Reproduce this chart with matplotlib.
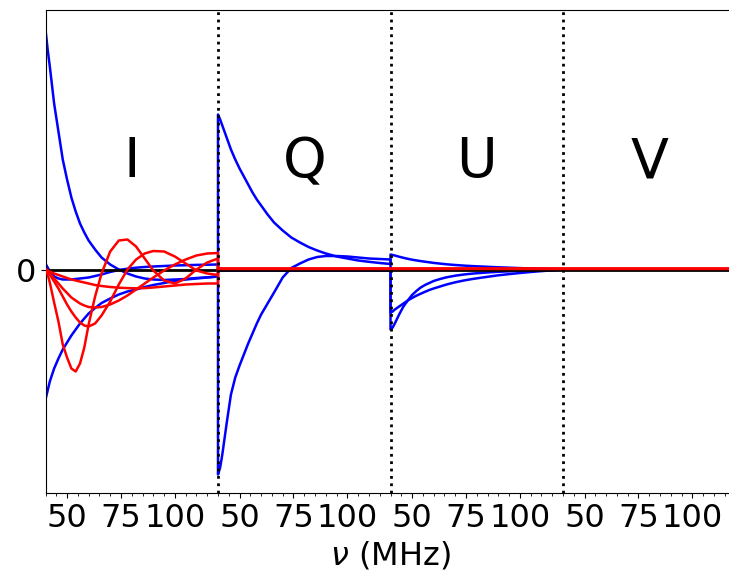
import numpy as np
import matplotlib
matplotlib.use("Agg")
import matplotlib.pyplot as plt

# frequency samples within each Stokes block (MHz)
nu = [40, 41, 42, 44, 46, 48, 50, 52, 54, 56, 58, 60, 63, 66, 70, 74, 78, 82, 86, 90, 95, 100, 105, 110, 115, 120]
stokes = ['I', 'Q', 'U', 'V']
tick_nu = [50, 75, 100]
tick_labels = ['50', '75', '100']

# blue curves, one list per block (I, Q, U, V)
blue_a_I = [2.40, 2.20, 2.03, 1.66, 1.38, 1.10, 0.90, 0.72, 0.58, 0.46, 0.37, 0.29, 0.20, 0.12, 0.05, 0.0,
            -0.04, -0.07, -0.09, -0.10, -0.105, -0.10, -0.095, -0.085, -0.078, -0.07]
blue_a_Q = [1.55, 1.50, 1.44, 1.32, 1.20, 1.10, 1.01, 0.93, 0.85, 0.77, 0.70, 0.64, 0.55, 0.47, 0.39, 0.32,
            0.27, 0.225, 0.19, 0.16, 0.13, 0.11, 0.09, 0.077, 0.065, 0.055]
blue_a_U = [0.15, 0.145, 0.14, 0.128, 0.117, 0.107, 0.098, 0.091, 0.084, 0.078, 0.072, 0.066, 0.059, 0.052,
            0.045, 0.039, 0.034, 0.03, 0.026, 0.022, 0.018, 0.014, 0.01, 0.007, 0.004, 0.0]

blue_b_I = [-1.30, -1.21, -1.12, -0.99, -0.89, -0.80, -0.73, -0.66, -0.60, -0.54, -0.49, -0.44, -0.385, -0.335,
            -0.29, -0.25, -0.22, -0.20, -0.175, -0.155, -0.135, -0.115, -0.10, -0.09, -0.08, -0.07]
blue_b_Q = [-2.05, -1.98, -1.85, -1.54, -1.25, -1.08, -0.96, -0.85, -0.74, -0.64, -0.54, -0.45, -0.34, -0.23,
            -0.08, 0.015, 0.06, 0.10, 0.125, 0.135, 0.135, 0.13, 0.12, 0.11, 0.105, 0.10]
blue_b_U = [-0.60, -0.58, -0.54, -0.45, -0.37, -0.31, -0.255, -0.215, -0.18, -0.155, -0.135, -0.115, -0.095,
            -0.078, -0.062, -0.05, -0.041, -0.034, -0.028, -0.023, -0.018, -0.013, -0.009, -0.006, -0.003, 0.0]

blue_c_I = [0.06, 0.02, -0.02, -0.07, -0.09, -0.10, -0.10, -0.10, -0.095, -0.09, -0.085, -0.08, -0.065, -0.05,
            -0.025, -0.005, 0.008, 0.018, 0.025, 0.03, 0.035, 0.04, 0.043, 0.046, 0.048, 0.05]
blue_c_Q = [-0.01] * len(nu)
blue_c_U = [-0.43, -0.42, -0.40, -0.37, -0.34, -0.31, -0.285, -0.262, -0.242, -0.223, -0.205, -0.19, -0.17,
            -0.15, -0.128, -0.11, -0.095, -0.082, -0.07, -0.058, -0.046, -0.035, -0.025, -0.016, -0.008, 0.0]

zero_block = [0.0] * len(nu)

# red curves: structure only in I, flat elsewhere
red_1_I = [0.0, -0.05, -0.13, -0.33, -0.52, -0.75, -0.88, -0.99, -1.02, -0.94, -0.78, -0.55, -0.27, -0.04,
           0.18, 0.29, 0.30, 0.23, 0.11, -0.01, -0.11, -0.14, -0.09, 0.0, 0.07, 0.11]
red_2_I = [0.0, -0.02, -0.05, -0.12, -0.19, -0.27, -0.35, -0.42, -0.48, -0.53, -0.56, -0.57, -0.54, -0.46,
           -0.32, -0.15, 0.0, 0.10, 0.16, 0.185, 0.18, 0.13, 0.06, -0.01, -0.04, -0.055]
red_3_I = [0.0, -0.02, -0.04, -0.09, -0.14, -0.19, -0.235, -0.28, -0.31, -0.34, -0.36, -0.375, -0.38, -0.375,
           -0.35, -0.31, -0.26, -0.20, -0.14, -0.08, -0.01, 0.05, 0.10, 0.14, 0.16, 0.165]
red_4_I = [0.0, -0.01, -0.02, -0.04, -0.055, -0.07, -0.085, -0.10, -0.11, -0.12, -0.13, -0.14, -0.155, -0.165,
           -0.175, -0.182, -0.186, -0.188, -0.186, -0.18, -0.17, -0.16, -0.15, -0.145, -0.14, -0.14]
red_rest = [0.007] * len(nu)

blue_curves = [
    [blue_a_I, blue_a_Q, blue_a_U, zero_block],
    [blue_b_I, blue_b_Q, blue_b_U, zero_block],
    [blue_c_I, blue_c_Q, blue_c_U, zero_block],
]
red_curves = [
    [red_1_I, red_rest, red_rest, red_rest],
    [red_2_I, red_rest, red_rest, red_rest],
    [red_3_I, red_rest, red_rest, red_rest],
    [red_4_I, red_rest, red_rest, red_rest],
]

nu_arr = np.array(nu, dtype=float)
width = 80.0  # each block spans 40-120 MHz


def stitch(blocks):
    xs = np.concatenate([k * width + (nu_arr - 40) for k in range(len(blocks))])
    ys = np.concatenate([np.array(b) for b in blocks])
    return xs, ys


fig = plt.figure(figsize=(7.29, 5.71), dpi=100)
# axes runs a little past the right edge like the original crop
ax = fig.add_axes([45.5 / 729, 77.7 / 571, 690 / 729, 483.3 / 571])

for blocks in blue_curves:
    x, y = stitch(blocks)
    ax.plot(x, y, color='blue', lw=1.8, zorder=2)

ax.axhline(0, color='black', lw=2, zorder=2.5)

for blocks in red_curves:
    x, y = stitch(blocks)
    ax.plot(x, y, color='red', lw=1.8, zorder=3)

for k in range(1, 4):
    ax.axvline(k * width, color='black', ls=':', lw=2, zorder=4)

for k, s in enumerate(stokes):
    ax.text(k * width + 40, 0.925, s, fontsize=40, ha='center', va='baseline')

ax.set_xlim(0, 4 * width)
ax.set_ylim(-2.238, 2.595)

major = [k * width + (t - 40) for k in range(4) for t in tick_nu]
ax.set_xticks(major)
ax.set_xticklabels(tick_labels * 4, fontsize=23)
ax.set_xticks(np.arange(0, 4 * width + 1, 5), minor=True)
ax.set_yticks([0])
ax.set_yticklabels(['0'], fontsize=23)
ax.set_xlabel(r'$\nu$ (MHz)', fontsize=23)

fig.savefig('out.png', dpi=100)
